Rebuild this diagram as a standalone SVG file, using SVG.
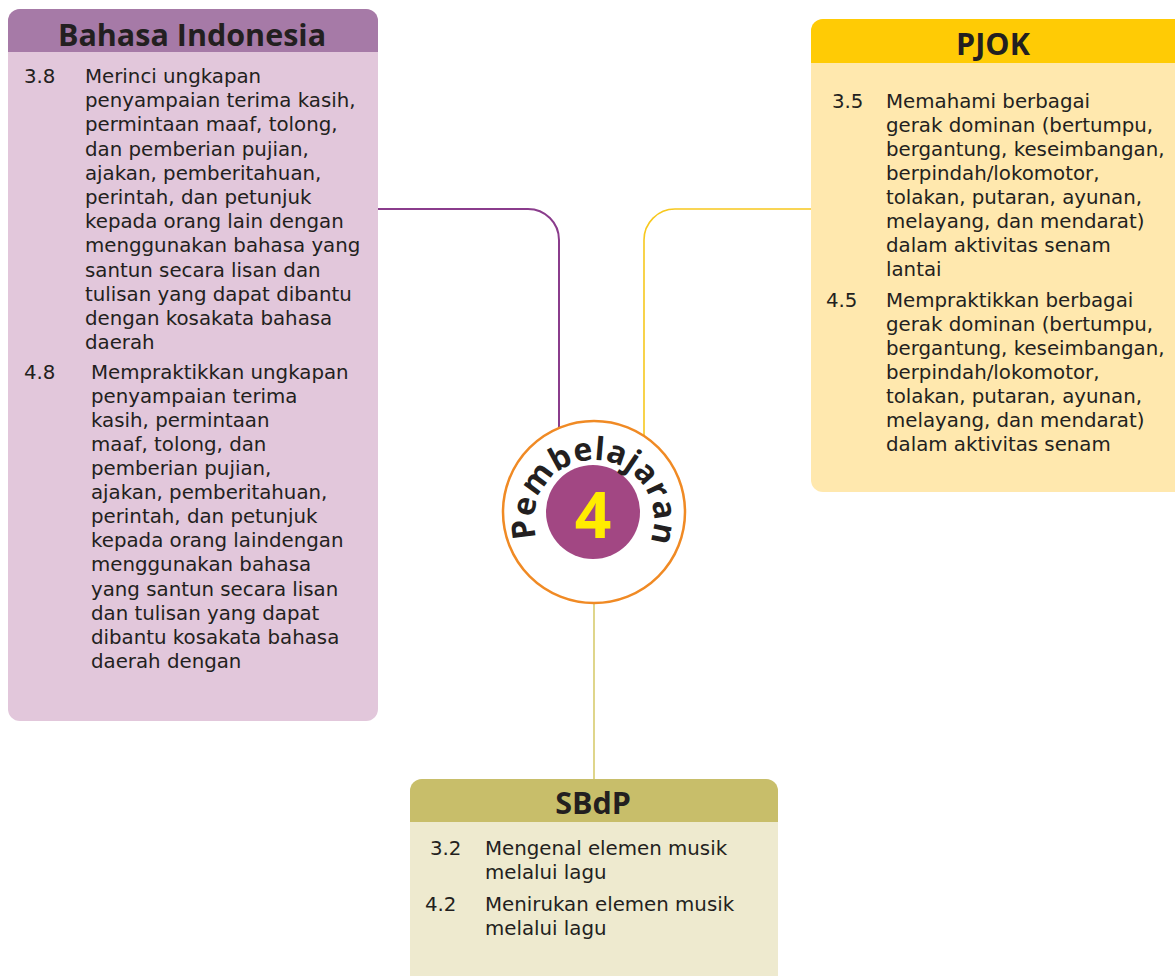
<svg xmlns="http://www.w3.org/2000/svg" width="1175" height="976" viewBox="0 0 1175 976">
  <style>
    .body { font-family: "DejaVu Sans", "Open Sans", sans-serif; font-size: 19.8px; fill: #231f20; }
    .head { font-family: "Open Sans", "Noto Sans", "DejaVu Sans", sans-serif; font-size: 30.5px; font-weight: 700; fill: #231f20; text-anchor: middle; }
    .conn { fill: none; }
  </style>
  <defs>
    <path id="ring" d="M537.6 540.5 A60 60 0 1 1 650.4 540.5"/>
  </defs>

  <rect width="1175" height="976" fill="#ffffff"/>

  <!-- connectors -->
  <g id="connectors" class="conn">
    <path d="M378 209 H528 A31 31 0 0 1 559 240 V428" stroke="#8a3c8c" stroke-width="2"/>
    <path d="M811 209 H675 A31 31 0 0 0 644 240 V436" stroke="#f7c81e" stroke-width="1.6"/>
    <path d="M594 603 V779" stroke="#d2c45a" stroke-width="1.4"/>
  </g>

  <!-- Bahasa Indonesia -->
  <g id="bahasa">
    <rect x="8" y="9" width="370" height="712" rx="12" fill="#e2c7db"/>
    <path d="M8 52 V21 A12 12 0 0 1 20 9 H366 A12 12 0 0 1 378 21 V52 Z" fill="#a67aa7"/>
    <text class="head" x="192" y="46">Bahasa Indonesia</text>
    <text class="body">
      <tspan x="24" y="83">3.8</tspan>
      <tspan x="85" y="83">Merinci ungkapan</tspan>
      <tspan x="85" y="107">penyampaian terima kasih,</tspan>
      <tspan x="85" y="131">permintaan maaf, tolong,</tspan>
      <tspan x="85" y="156">dan pemberian pujian,</tspan>
      <tspan x="85" y="180">ajakan, pemberitahuan,</tspan>
      <tspan x="85" y="204">perintah, dan petunjuk</tspan>
      <tspan x="85" y="228">kepada orang lain dengan</tspan>
      <tspan x="85" y="252">menggunakan bahasa yang</tspan>
      <tspan x="85" y="277">santun secara lisan dan</tspan>
      <tspan x="85" y="301">tulisan yang dapat dibantu</tspan>
      <tspan x="85" y="325">dengan kosakata bahasa</tspan>
      <tspan x="85" y="349">daerah</tspan>
      <tspan x="24" y="379">4.8</tspan>
      <tspan x="91" y="379">Mempraktikkan ungkapan</tspan>
      <tspan x="91" y="403">penyampaian terima</tspan>
      <tspan x="91" y="427">kasih, permintaan</tspan>
      <tspan x="91" y="451">maaf, tolong, dan</tspan>
      <tspan x="91" y="475">pemberian pujian,</tspan>
      <tspan x="91" y="499">ajakan, pemberitahuan,</tspan>
      <tspan x="91" y="523">perintah, dan petunjuk</tspan>
      <tspan x="91" y="547">kepada orang laindengan</tspan>
      <tspan x="91" y="571">menggunakan bahasa</tspan>
      <tspan x="91" y="596">yang santun secara lisan</tspan>
      <tspan x="91" y="620">dan tulisan yang dapat</tspan>
      <tspan x="91" y="644">dibantu kosakata bahasa</tspan>
      <tspan x="91" y="668">daerah dengan</tspan>
    </text>
  </g>

  <!-- PJOK -->
  <g id="pjok">
    <rect x="811" y="19" width="380" height="473" rx="12" fill="#ffe8ae"/>
    <path d="M811 63 V31 A12 12 0 0 1 823 19 H1191 V63 Z" fill="#ffcb05"/>
    <text class="head" x="993" y="55">PJOK</text>
    <text class="body">
      <tspan x="832" y="108">3.5</tspan>
      <tspan x="886" y="108">Memahami berbagai</tspan>
      <tspan x="886" y="132">gerak dominan (bertumpu,</tspan>
      <tspan x="886" y="156">bergantung, keseimbangan,</tspan>
      <tspan x="886" y="180">berpindah/lokomotor,</tspan>
      <tspan x="886" y="204">tolakan, putaran, ayunan,</tspan>
      <tspan x="886" y="228">melayang, dan mendarat)</tspan>
      <tspan x="886" y="252">dalam aktivitas senam</tspan>
      <tspan x="886" y="276">lantai</tspan>
      <tspan x="826" y="307">4.5</tspan>
      <tspan x="886" y="307">Mempraktikkan berbagai</tspan>
      <tspan x="886" y="331">gerak dominan (bertumpu,</tspan>
      <tspan x="886" y="355">bergantung, keseimbangan,</tspan>
      <tspan x="886" y="379">berpindah/lokomotor,</tspan>
      <tspan x="886" y="403">tolakan, putaran, ayunan,</tspan>
      <tspan x="886" y="427">melayang, dan mendarat)</tspan>
      <tspan x="886" y="451">dalam aktivitas senam</tspan>
    </text>
  </g>

  <!-- SBdP -->
  <g id="sbdp">
    <rect x="410" y="779" width="368" height="210" rx="12" fill="#eeeacf"/>
    <path d="M410 822 V791 A12 12 0 0 1 422 779 H766 A12 12 0 0 1 778 791 V822 Z" fill="#c8be6a"/>
    <text class="head" x="593" y="814">SBdP</text>
    <text class="body">
      <tspan x="430" y="855">3.2</tspan>
      <tspan x="485" y="855">Mengenal elemen musik</tspan>
      <tspan x="485" y="879">melalui lagu</tspan>
      <tspan x="425" y="911">4.2</tspan>
      <tspan x="485" y="911">Menirukan elemen musik</tspan>
      <tspan x="485" y="935">melalui lagu</tspan>
    </text>
  </g>

  <!-- Pembelajaran 4 badge -->
  <g id="pembelajaran">
    <circle cx="594" cy="512" r="91" fill="#ffffff" stroke="#f08a24" stroke-width="2.5"/>
    <circle cx="593" cy="512" r="47" fill="#a24783"/>
    <text x="593" y="538" font-family="'Open Sans', 'DejaVu Sans', sans-serif" font-size="64" font-weight="700" fill="#ffec00" text-anchor="middle">4</text>
    <text font-family="'Open Sans', 'DejaVu Sans', sans-serif" font-size="32" font-weight="700" fill="#231f20" letter-spacing="0.5" text-anchor="middle">
      <textPath href="#ring" startOffset="51%">Pembelajaran</textPath>
    </text>
  </g>
</svg>
